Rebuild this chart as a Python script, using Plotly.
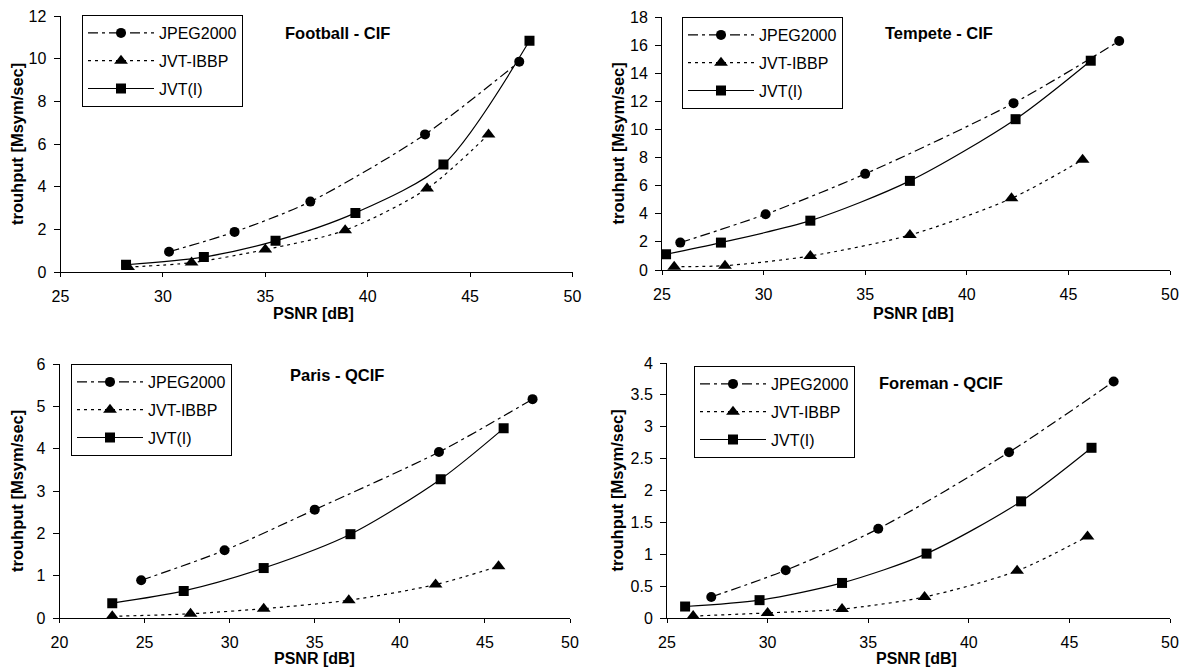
import plotly.graph_objects as go

# ---------------- data ----------------
series_names = ["JPEG2000", "JVT-IBBP", "JVT(I)"]
panel_titles = ["Football - CIF", "Tempete - CIF", "Paris - QCIF", "Foreman - QCIF"]

# Football - CIF
fb_jpeg_x = [30.3, 33.5, 37.2, 42.8, 47.4]
fb_jpeg_y = [0.95, 1.88, 3.3, 6.45, 9.86]
fb_ibbp_x = [28.3, 31.4, 35.0, 38.9, 42.9, 45.9]
fb_ibbp_y = [0.23, 0.44, 1.05, 1.96, 3.91, 6.45]
fb_jvti_x = [28.2, 32.0, 35.5, 39.4, 43.7, 47.9]
fb_jvti_y = [0.34, 0.70, 1.46, 2.77, 5.04, 10.84]

# Tempete - CIF
tp_jpeg_x = [25.9, 30.1, 35.0, 42.3, 47.5]
tp_jpeg_y = [1.95, 3.97, 6.84, 11.87, 16.29]
tp_ibbp_x = [25.6, 28.1, 32.3, 37.2, 42.2, 45.7]
tp_ibbp_y = [0.24, 0.31, 1.0, 2.49, 5.1, 7.84]
tp_jvti_x = [25.2, 27.9, 32.3, 37.2, 42.4, 46.1]
tp_jvti_y = [1.12, 1.95, 3.51, 6.34, 10.73, 14.89]

# Paris - QCIF
pa_jpeg_x = [24.8, 29.7, 35.0, 42.3, 47.8]
pa_jpeg_y = [0.89, 1.60, 2.56, 3.92, 5.17]
pa_ibbp_x = [23.1, 27.7, 32.0, 37.0, 42.1, 45.8]
pa_ibbp_y = [0.04, 0.10, 0.22, 0.42, 0.79, 1.22]
pa_jvti_x = [23.1, 27.3, 32.0, 37.1, 42.4, 46.1]
pa_jvti_y = [0.35, 0.64, 1.18, 1.98, 3.28, 4.48]

# Foreman - QCIF
fo_jpeg_x = [27.2, 30.9, 35.5, 42.0, 47.2]
fo_jpeg_y = [0.33, 0.75, 1.40, 2.60, 3.71]
fo_ibbp_x = [26.3, 30.0, 33.7, 37.8, 42.4, 45.9]
fo_ibbp_y = [0.03, 0.08, 0.14, 0.33, 0.74, 1.28]
fo_jvti_x = [25.9, 29.6, 33.7, 37.9, 42.6, 46.1]
fo_jvti_y = [0.18, 0.28, 0.55, 1.01, 1.83, 2.67]

x_ranges = [[25, 50], [25, 50], [20, 50], [25, 50]]
y_ranges = [[0, 12], [0, 18], [0, 6], [0, 4]]
y_dticks = [2, 2, 1, 0.5]

panels = [
    [(fb_jpeg_x, fb_jpeg_y), (fb_ibbp_x, fb_ibbp_y), (fb_jvti_x, fb_jvti_y)],
    [(tp_jpeg_x, tp_jpeg_y), (tp_ibbp_x, tp_ibbp_y), (tp_jvti_x, tp_jvti_y)],
    [(pa_jpeg_x, pa_jpeg_y), (pa_ibbp_x, pa_ibbp_y), (pa_jvti_x, pa_jvti_y)],
    [(fo_jpeg_x, fo_jpeg_y), (fo_ibbp_x, fo_ibbp_y), (fo_jvti_x, fo_jvti_y)],
]

# ---------------- layout geometry (window pixels) ----------------
WIN_W, WIN_H = 1189, 670
OFF = 8                      # default page margin around the plot div
W, H = WIN_W - OFF, WIN_H - OFF


def fx(px):
    return (px - OFF) / W


def fy(py):
    return 1 - (py - OFF) / H


# left, right, top, bottom of each plot area
boxes = [(60.5, 572.5, 16, 272), (662, 1170, 17, 270), (59.5, 570, 364, 618), (667, 1170, 363, 618)]
legend_pos = [(82, 15), (682, 17), (71, 364), (694, 366)]
title_pos = [(337, 33), (939, 33), (337, 375), (941, 383)]
xtitle_pos = [(313, 313), (913, 313), (314, 658), (916, 658)]
ytitle_x = [17, 617, 17, 617]

styles = [
    dict(dash="10px,4px,3px,4px", symbol="circle", size=10),
    dict(dash="3px,4px", symbol="triangle-up", size=12),
    dict(dash="solid", symbol="square", size=10),
]

FONT = "Liberation Sans, Arial, sans-serif"
fig = go.Figure()
layout = dict(
    width=W, height=H, margin=dict(l=0, r=0, t=0, b=0, pad=0, autoexpand=False),
    paper_bgcolor="white", plot_bgcolor="white",
    font=dict(family=FONT, size=16, color="black"),
    annotations=[],
)

for i, series in enumerate(panels):
    ax = "" if i == 0 else str(i + 1)
    leg = "legend" if i == 0 else "legend%d" % (i + 1)
    for j, (xs, ys) in enumerate(series):
        st = styles[j]
        fig.add_trace(go.Scatter(
            x=xs, y=ys, name=series_names[j], mode="lines+markers",
            line=dict(color="black", width=1.2, dash=st["dash"], shape="spline", smoothing=0.8),
            marker=dict(symbol=st["symbol"], size=st["size"], color="black"),
            xaxis="x" + ax, yaxis="y" + ax, legend=leg,
            legendgroup="p%d_%d" % (i, j),
        ))
    l, r, t, b = boxes[i]
    xd = [fx(l), fx(r)]
    yd = [fy(b), fy(t)]
    common = dict(showline=True, linecolor="black", linewidth=1, ticks="outside",
                  tickcolor="black", showgrid=False, zeroline=False, automargin=False,
                  ticklabeloverflow="allow",
                  tickfont=dict(family=FONT, size=16, color="black"))
    layout["xaxis" + ax] = dict(domain=xd, range=x_ranges[i], dtick=5, anchor="y" + ax,
                                ticklen=4, ticklabelstandoff=6, **common)
    layout["yaxis" + ax] = dict(domain=yd, range=y_ranges[i], dtick=y_dticks[i], anchor="x" + ax,
                                ticklen=6, ticklabelstandoff=4, **common)
    lx, ly = legend_pos[i]
    layout[leg] = dict(x=fx(lx), y=fy(ly), xanchor="left", yanchor="top",
                       bordercolor="black", borderwidth=1, bgcolor="white",
                       font=dict(family=FONT, size=16, color="black"),
                       itemwidth=66, tracegroupgap=4)
    tx, ty = title_pos[i]
    layout["annotations"].append(dict(text="<b>%s</b>" % panel_titles[i], x=fx(tx), y=fy(ty),
                                      xref="paper", yref="paper", showarrow=False,
                                      xanchor="center", yanchor="middle",
                                      font=dict(family=FONT, size=16.5)))
    px, py = xtitle_pos[i]
    layout["annotations"].append(dict(text="<b>PSNR [dB]</b>", x=fx(px), y=fy(py),
                                      xref="paper", yref="paper", showarrow=False,
                                      xanchor="center", yanchor="middle",
                                      font=dict(family=FONT, size=16)))
    layout["annotations"].append(dict(text="<b>trouhput [Msym/sec]</b>", x=fx(ytitle_x[i]),
                                      y=fy((t + b) / 2), xref="paper", yref="paper",
                                      showarrow=False, textangle=-90,
                                      xanchor="center", yanchor="middle",
                                      font=dict(family=FONT, size=16.5)))

fig.update_layout(**layout)
fig.write_html("out.html", config={"displayModeBar": False})
